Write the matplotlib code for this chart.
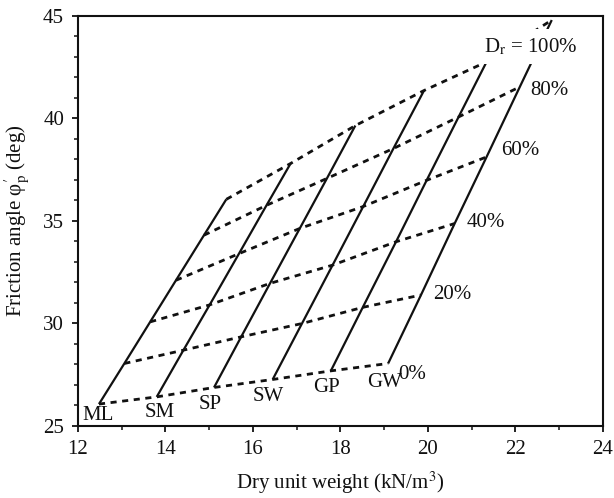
import matplotlib
matplotlib.use("Agg")
import matplotlib.pyplot as plt

plt.rcParams['font.family'] = ['Liberation Serif', 'DejaVu Serif']
plt.rcParams['mathtext.fontset'] = 'stix'

# relative density levels (%)
dr_levels = [0, 20, 40, 60, 80, 100]

# soil types, dry unit weight (kN/m3) and friction angle (deg) at each Dr level
soils = ['ML', 'SM', 'SP', 'SW', 'GP', 'GW']
ml_gamma = [12.48, 13.06, 13.65, 14.24, 14.88, 15.39]
ml_phi = [26.06, 28.04, 30.07, 32.10, 34.30, 36.05]
sm_gamma = [13.80, 14.41, 15.01, 15.68, 16.31, 16.86]
sm_phi = [26.41, 28.69, 30.90, 33.40, 35.76, 37.80]
sp_gamma = [15.11, 15.73, 16.39, 17.07, 17.69, 18.34]
sp_phi = [26.87, 29.34, 31.95, 34.63, 37.07, 39.65]
sw_gamma = [16.45, 17.12, 17.82, 18.52, 19.21, 19.91]
sw_phi = [27.26, 29.99, 32.84, 35.70, 38.53, 41.36]
gp_gamma = [17.78, 18.51, 19.27, 19.97, 20.70, 21.34]
gp_phi = [27.68, 30.78, 33.98, 36.98, 40.07, 42.76]
gw_gamma = [19.09, 19.84, 20.61, 21.34, 22.10, 22.83]
gw_phi = [28.04, 31.38, 34.87, 38.12, 41.54, 44.80]

gammas = [ml_gamma, sm_gamma, sp_gamma, sw_gamma, gp_gamma, gw_gamma]
phis = [ml_phi, sm_phi, sp_phi, sw_phi, gp_phi, gw_phi]

# label positions
soil_lab_x = [12.47, 13.87, 15.02, 16.34, 17.68, 19.00]
soil_lab_y = [25.52, 25.67, 26.06, 26.45, 26.89, 27.13]
dr_labels = ['0%', '20%', '40%', '60%', '80%']
dr_lab_x = [19.32, 20.12, 20.88, 21.68, 22.33]
dr_lab_y = [27.52, 31.42, 34.91, 38.45, 41.35]

ink = '#111111'
fs = 15

fig = plt.figure(figsize=(6.14, 4.98), dpi=100)
ax = fig.add_axes([0.127, 0.145, 0.855, 0.823])

# solid lines, one per soil
for g, p in zip(gammas, phis):
    ax.plot(g, p, color=ink, lw=1.6, solid_capstyle='butt', zorder=2)

# dashed lines, one per Dr level
for k in range(len(dr_levels)):
    xs = [g[k] for g in gammas]
    ys = [p[k] for p in phis]
    ax.plot(xs, ys, color=ink, lw=2.0, linestyle=(0, (2.2, 2.0)), zorder=2)

for name, x, y in zip(soils, soil_lab_x, soil_lab_y):
    ax.text(x, y, name, fontsize=fs, ha='center', va='center', color=ink, zorder=4)

for lab, x, y in zip(dr_labels, dr_lab_x, dr_lab_y):
    ax.text(x, y, lab, fontsize=fs, ha='left', va='center', color=ink, zorder=4)

# top label hides the upper ends of the GW and 100% lines
ax.text(21.28, 43.5, r'D$_\mathrm{r}$ = 100%', fontsize=fs, ha='left', va='center', color=ink,
        zorder=5, bbox=dict(boxstyle='square,pad=0.35', fc='white', ec='none'))

ax.set_xlim(12, 24)
ax.set_ylim(25, 45)
ax.set_xticks([12, 14, 16, 18, 20, 22, 24])
ax.set_xticks(range(13, 24, 2), minor=True)
ax.set_yticks([25, 30, 35, 40, 45])
ax.set_yticks([v for v in range(26, 45) if v % 5 != 0], minor=True)
ax.tick_params(which='major', direction='out', length=4, width=1.3, labelsize=fs,
               colors=ink, pad=6)
ax.tick_params(which='minor', direction='out', length=3, width=1.1, colors=ink)
for s in ax.spines.values():
    s.set_linewidth(1.5)
    s.set_color(ink)

ax.set_xlabel('Dry unit weight (kN/m$^3$)', fontsize=fs, color=ink, labelpad=8)
ax.set_ylabel('Friction angle \u03c6$^{\\prime}_\\mathrm{p}$ (deg)', fontsize=fs, color=ink, labelpad=8)

plt.savefig('out.png', dpi=100)
